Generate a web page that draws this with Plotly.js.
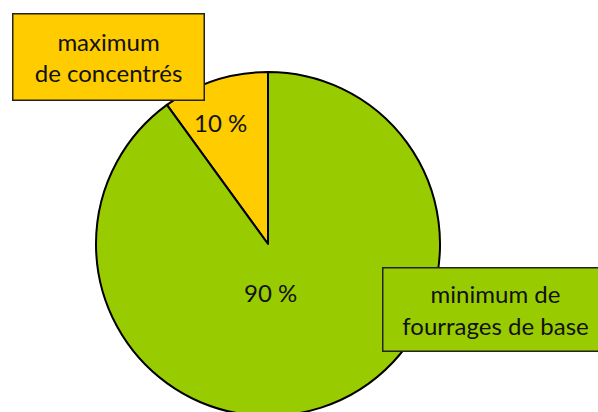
<!DOCTYPE html>
<html><head><meta charset="utf-8">
<script src="https://cdn.plot.ly/plotly-3.0.1.min.js"></script>
<style>html,body{margin:0;padding:0;overflow:hidden;background:#fff}#c{width:598px;height:420px}</style>
</head><body><div id="c"></div>
<script>
const categories = ["maximum<br>de concentrés", "minimum de<br>fourrages de base"];
const values = [10, 90];
const valueLabels = ["10 %", "90 %"];
const colors = ["#FFCC00", "#99CC00"];

const W = 598, H = 420;
const px = (x) => x / W, py = (y) => (H - y) / H;
const font = {family: "Lato, 'Open Sans', sans-serif", size: 24, color: "#111"};

const trace = {
  type: "pie", values: values, labels: categories, sort: false,
  direction: "clockwise", rotation: -36,
  marker: {colors: colors, line: {color: "#000", width: 2}},
  textinfo: "none", hoverinfo: "skip", showlegend: false,
  domain: {x: [px(96), px(440)], y: [py(416), py(72)]}
};

const labelPos = [[220, 123], [270, 292]];
const boxPos = [
  {x: 12, y: 13, w: 190, h: 85},
  {x: 382, y: 267, w: 224, h: 82}
];
const annotations = [];
valueLabels.forEach((t, i) => annotations.push({
  text: t, xref: "paper", yref: "paper", x: px(labelPos[i][0]), y: py(labelPos[i][1]),
  xanchor: "center", yanchor: "middle", showarrow: false, font: font
}));
categories.forEach((t, i) => annotations.push({
  text: t, xref: "paper", yref: "paper", x: px(boxPos[i].x), y: py(boxPos[i].y),
  xanchor: "left", yanchor: "top", showarrow: false, font: font,
  bgcolor: colors[i], bordercolor: "#222", borderwidth: 1.5, borderpad: 0,
  width: boxPos[i].w, height: boxPos[i].h, align: "center", valign: "middle"
}));

Plotly.newPlot("c", [trace], {
  width: W, height: H, margin: {l: 0, r: 0, t: 0, b: 0},
  paper_bgcolor: "#fff", annotations: annotations
}, {displayModeBar: false, staticPlot: true});
</script></body></html>
